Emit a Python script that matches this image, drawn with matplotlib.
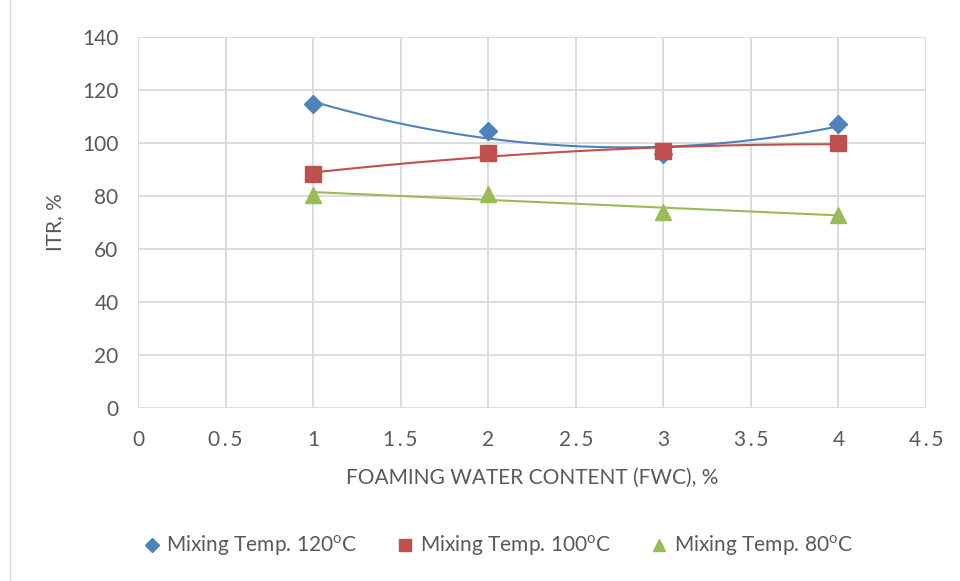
import numpy as np
import matplotlib
matplotlib.use("Agg")
import matplotlib.pyplot as plt
from matplotlib.lines import Line2D

fwc = [1, 2, 3, 4]
itr_120 = [114.7, 104.5, 95.8, 107.2]
itr_100 = [88.4, 96.2, 97.0, 100.0]
itr_80 = [80.5, 80.8, 74.0, 73.0]
labels = ["Mixing Temp. 120$^{\\mathregular{o}}$C",
          "Mixing Temp. 100$^{\\mathregular{o}}$C",
          "Mixing Temp. 80$^{\\mathregular{o}}$C"]
x_ticks = [0, 0.5, 1, 1.5, 2, 2.5, 3, 3.5, 4, 4.5]
y_ticks = [0, 20, 40, 60, 80, 100, 120, 140]

plt.rcParams['font.family'] = ['Lato', 'DejaVu Sans']
txt = '#595959'
fs = 15

fig = plt.figure(figsize=(9.6, 5.81), dpi=100)
ax = fig.add_axes([138/960, 1-408/581, (926-138)/960, (408-37)/581])

series = [
    (itr_120, '#4F81BD', 'D', 9.5, 2),
    (itr_100, '#C0504D', 's', 11, 2),
    (itr_80, '#9BBB59', '^', 11.5, 1),
]
handles = []
for (ys, c, m, ms, deg), lab in zip(series, labels):
    coef = np.polyfit(fwc, ys, deg)
    xx = np.linspace(fwc[0], fwc[-1], 200)
    ax.plot(xx, np.polyval(coef, xx), color=c, lw=1.5, zorder=3)
    ax.plot(fwc, ys, ls='none', marker=m, ms=ms, color=c, zorder=4)
    handles.append(Line2D([], [], ls='none', marker=m, ms=ms*0.8, color=c, label=lab))

ax.set_xlim(0, 4.5)
ax.set_ylim(0, 140)
ax.set_xticks(x_ticks)
ax.set_yticks(y_ticks)
ax.set_xticklabels([str(v).replace(".", "\u2009.\u2009") for v in x_ticks])
ax.grid(True, color='#D9D9D9', lw=1.3)
ax.set_axisbelow(True)
for s in ax.spines.values():
    s.set_visible(False)
ax.tick_params(length=0, labelsize=fs, colors=txt)
ax.tick_params(axis='x', pad=16)
ax.tick_params(axis='y', pad=14)
ax.set_xlabel("FOAMING WATER CONTENT (FWC), %", fontsize=fs, color=txt, labelpad=13)
ax.set_ylabel("ITR, %", fontsize=fs, color=txt, labelpad=12)

fig.legend(handles=handles, loc='center', bbox_to_anchor=(495/960, 1-546/581), ncol=3,
           frameon=False, fontsize=fs, labelcolor=txt, handletextpad=0.0, columnspacing=1.6,
           handlelength=1.4)

fig.add_artist(plt.Line2D([10/960, 10/960], [0, 1], color='#D9D9D9', lw=1))
fig.savefig("out.png", dpi=100)
